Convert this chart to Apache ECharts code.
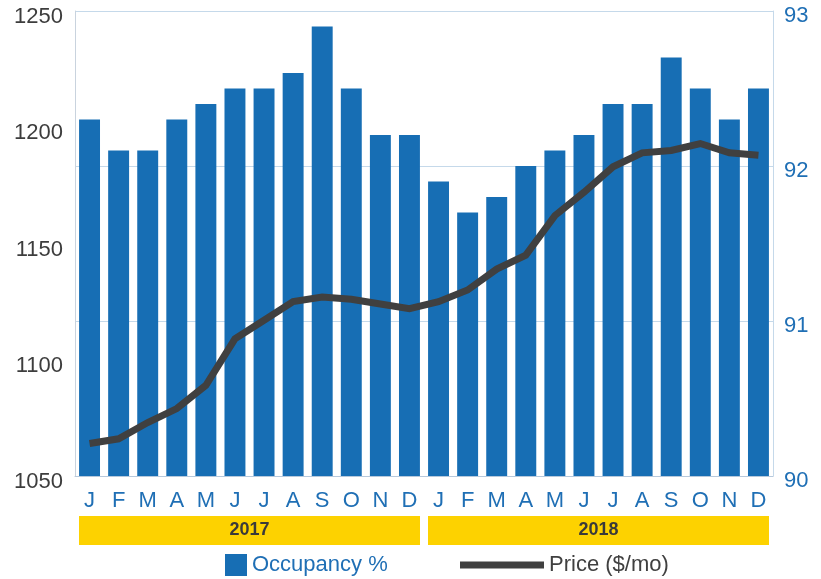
<!DOCTYPE html>
<html>
<head>
<meta charset="utf-8">
<script src="https://cdn.jsdelivr.net/npm/echarts@6/dist/echarts.min.js"></script>
<style>
html,body{margin:0;padding:0;background:#fff;}
#chart{width:821px;height:579px;}
</style>
</head>
<body>
<div id="chart"></div>
<script>
const months = ['J','F','M','A','M','J','J','A','S','O','N','D','J','F','M','A','M','J','J','A','S','O','N','D'];
const years = ['2017','2018'];
const occupancy = [92.3,92.1,92.1,92.3,92.4,92.5,92.5,92.6,92.9,92.5,92.2,92.2,
                   91.9,91.7,91.8,92.0,92.1,92.2,92.4,92.4,92.7,92.5,92.3,92.5];
const price = [1064,1066,1073,1079,1089,1109,1117,1125,1127,1126,1124,1122,
               1125,1130,1139,1145,1162,1172,1183,1189,1190,1193,1189,1188];
const priceTicks = [1050,1100,1150,1200,1250];
const occTicks = [90,91,92,93];

const BLUE = '#176eb4';
const LABEL_BLUE = '#1f6fb5';
const DARK = '#404040';
const YELLOW = '#fdd200';
const FONT = 'Liberation Sans, Arial, Helvetica, sans-serif';

const chart = echarts.init(document.getElementById('chart'));
chart.setOption({
  animation: false,
  backgroundColor: '#fff',
  grid: {left: 75, right: 48, top: 11, bottom: 103, containLabel: false},
  legend: [
    {
      data: [{name: 'Occupancy %', icon: 'rect'}],
      left: 225, top: 554, padding: 0,
      itemWidth: 22, itemHeight: 22,
      textStyle: {color: LABEL_BLUE, fontSize: 22, fontFamily: FONT}
    },
    {
      data: [{name: 'Price ($/mo)', icon: 'rect'}],
      left: 460, top: 554, padding: 0,
      itemWidth: 84, itemHeight: 7,
      textStyle: {color: DARK, fontSize: 22, fontFamily: FONT}
    }
  ],
  xAxis: [
    {
      type: 'category', data: months, position: 'bottom',
      axisLine: {show: true, lineStyle: {color: '#b7c9dc', width: 1}},
      axisTick: {show: false},
      axisLabel: {color: LABEL_BLUE, fontSize: 22, fontFamily: FONT, margin: 14, interval: 0}
    },
    {
      type: 'category', data: years, position: 'bottom',
      axisLine: {show: false}, axisTick: {show: false},
      axisLabel: {
        color: '#3a3a3a', fontSize: 18, fontWeight: 'bold', fontFamily: FONT,
        margin: 40, interval: 0,
        backgroundColor: YELLOW, width: 341, height: 29, lineHeight: 29, align: 'center'
      }
    }
  ],
  yAxis: [
    {
      type: 'value', position: 'left', min: 1050, max: 1250, interval: 50,
      axisLine: {show: true, lineStyle: {color: '#c9d3de'}},
      axisTick: {show: false},
      splitLine: {show: false},
      axisLabel: {color: '#3d3d3d', fontSize: 22, fontFamily: FONT, margin: 12,
        verticalAlign: 'top', lineHeight: 12,
        formatter: v => priceTicks.includes(v) ? String(v) : ''}
    },
    {
      type: 'value', position: 'right', min: 90, max: 93, interval: 1,
      axisLine: {show: true, lineStyle: {color: '#c5d9ea'}},
      axisTick: {show: false},
      splitLine: {show: true, lineStyle: {color: '#c5d9ea', width: 1}},
      axisLabel: {color: LABEL_BLUE, fontSize: 22, fontFamily: FONT, margin: 11,
        verticalAlign: 'top', lineHeight: 10,
        formatter: v => occTicks.includes(v) ? String(v) : ''}
    }
  ],
  series: [
    {
      name: 'Occupancy %', type: 'bar', data: occupancy, yAxisIndex: 1, xAxisIndex: 0,
      barCategoryGap: '28%', itemStyle: {color: BLUE}, z: 2
    },
    {
      name: 'Price ($/mo)', type: 'line', data: price, yAxisIndex: 0, xAxisIndex: 0,
      showSymbol: false, symbol: 'none', lineStyle: {color: DARK, width: 7, join: 'miter'},
      itemStyle: {color: DARK}, z: 5
    }
  ]
});
</script>
</body>
</html>
